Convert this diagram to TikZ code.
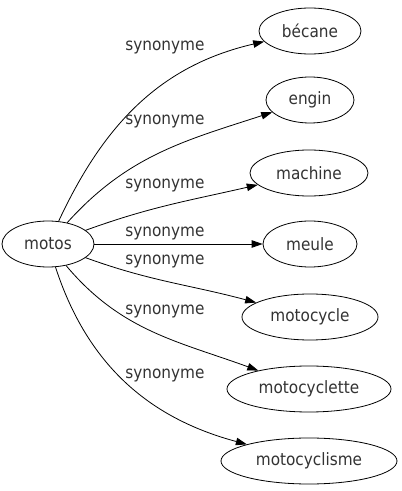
\documentclass[tikz,border=0pt]{standalone}
\usepackage{fontspec}
\setmainfont{DejaVu Sans Condensed}
\usepackage{tikz}
\usetikzlibrary{shapes.geometric,arrows.meta}

\tikzset{
	word/.style={draw,ellipse,line width=0.8pt,inner sep=2pt,minimum height=46pt,text=black!80,font=\fontsize{17}{20}\selectfont},
	syn/.style={text=black!80,font=\fontsize{17}{20}\selectfont,inner sep=0pt},
	rel/.style={line width=0.8pt,-{Triangle[length=11pt,width=7.5pt]}}
}

\begin{document}
\begin{tikzpicture}[x=1pt,y=1pt]
		\useasboundingbox (0,0) rectangle (402,491);
		%headword
		\node[word,minimum width=92pt] (motos) at (48,247) {motos};
		%synonyms
		\node[word,minimum width=102pt] (becane) at (310,460) {bécane};
		\node[word,minimum width=88pt] (engin) at (310,391) {engin};
		\node[word,minimum width=118pt] (machine) at (309,318) {machine};
		\node[word,minimum width=94pt] (meule) at (310,247) {meule};
		\node[word,minimum width=136pt] (motocycle) at (310,174) {motocycle};
		\node[word,minimum width=164pt] (motocyclette) at (309,102) {motocyclette};
		\node[word,minimum width=176pt] (motocyclisme) at (309,30) {motocyclisme};
		
		%edges
		\draw[rel] (motos) to[out=65,in=193] (becane);
		\draw[rel] (motos) to[out=48,in=198] (engin);
		\draw[rel] (motos) to[out=20,in=193] (machine);
		\draw[rel] (motos) -- (meule);
		\draw[rel] (motos) to[out=-20,in=165] (motocycle);
		\draw[rel] (motos) to[out=-50,in=160] (motocyclette);
		\draw[rel] (motos) to[out=-72,in=165] (motocyclisme);
		
		%labels
		\node[syn] (syn1) at (165,443) {synonyme};
		\node[syn] (syn2) at (165,369) {synonyme};
		\node[syn] (syn3) at (165,305) {synonyme};
		\node[syn] (syn4) at (165,257) {synonyme};
		\node[syn] (syn5) at (165,229) {synonyme};
		\node[syn] (syn6) at (165,179) {synonyme};
		\node[syn] (syn7) at (165,115) {synonyme};
	\end{tikzpicture}
\end{document}
